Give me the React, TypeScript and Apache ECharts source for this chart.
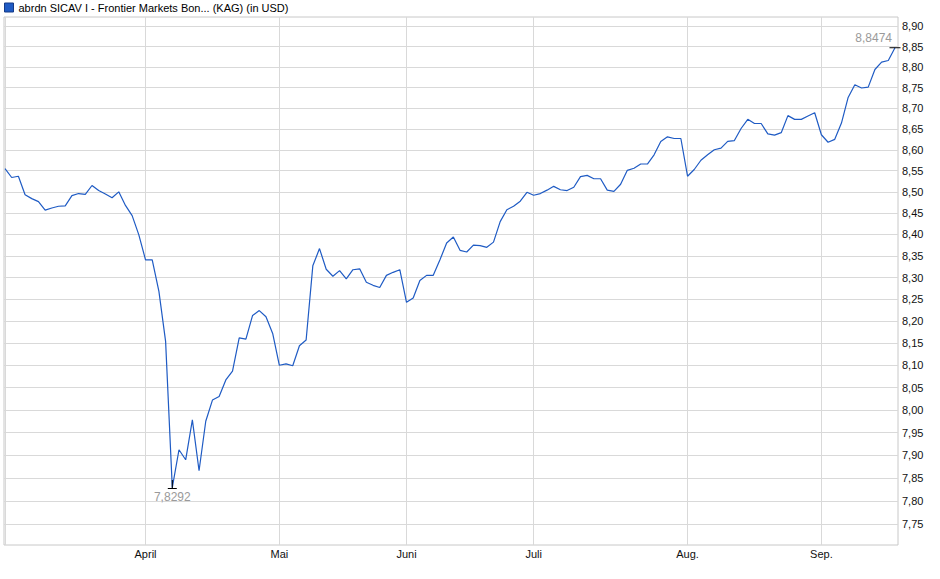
import React, { useEffect, useRef } from 'react';
import * as echarts from 'echarts';

const FONT = '"Liberation Sans", Arial, sans-serif';
const LINE_COLOR = '#1f5bc4';
const GRID_COLOR = '#d9d9d9';

const seriesName = 'abrdn SICAV I - Frontier Markets Bon... (KAG) (in USD)';

// month names (first trading day of each month gets a gridline)
const monthNames = ['März', 'April', 'Mai', 'Juni', 'Juli', 'Aug.', 'Sep.'];

// daily prices per month
const marValues = [8.555, 8.534, 8.537, 8.493, 8.484, 8.477, 8.457, 8.462, 8.466, 8.467, 8.491, 8.496, 8.494, 8.515, 8.503, 8.495, 8.486, 8.5, 8.468, 8.444, 8.399];
const aprValues = [8.341, 8.341, 8.268, 8.154, 7.8292, 7.912, 7.89, 7.978, 7.866, 7.975, 8.022, 8.03, 8.067, 8.087, 8.162, 8.159, 8.213, 8.224, 8.21, 8.172];
const maiValues = [8.1, 8.103, 8.099, 8.144, 8.157, 8.327, 8.367, 8.319, 8.303, 8.316, 8.297, 8.318, 8.32, 8.289, 8.282, 8.277, 8.305, 8.312, 8.318];
const junValues = [8.243, 8.253, 8.293, 8.305, 8.305, 8.341, 8.38, 8.394, 8.363, 8.359, 8.375, 8.374, 8.37, 8.382, 8.43, 8.458, 8.466, 8.478, 8.499];
const julValues = [8.492, 8.496, 8.504, 8.513, 8.505, 8.503, 8.511, 8.536, 8.539, 8.531, 8.531, 8.504, 8.501, 8.518, 8.551, 8.556, 8.566, 8.566, 8.588, 8.62, 8.631, 8.627, 8.627];
const augValues = [8.537, 8.553, 8.575, 8.588, 8.6, 8.604, 8.62, 8.622, 8.651, 8.673, 8.663, 8.663, 8.638, 8.635, 8.641, 8.682, 8.673, 8.673, 8.681, 8.689];
const sepValues = [8.636, 8.618, 8.625, 8.664, 8.726, 8.757, 8.749, 8.751, 8.794, 8.812, 8.816, 8.8474];

// y axis (log scale) tick labels
const yTicks = [7.75, 7.8, 7.85, 7.9, 7.95, 8.0, 8.05, 8.1, 8.15, 8.2, 8.25, 8.3, 8.35, 8.4, 8.45, 8.5, 8.55, 8.6, 8.65, 8.7, 8.75, 8.8, 8.85, 8.9];

const monthSeries = [marValues, aprValues, maiValues, junValues, julValues, augValues, sepValues];

const fmt = (v: number, d: number) => Number(v).toFixed(d).replace('.', ',');

function buildOption() {
  const values = monthSeries.flat();
  const seriesData = values.map((v, i) => [i, v]);

  let acc = 0;
  const monthStarts = monthSeries.map((arr) => {
    const s = acc;
    acc += arr.length;
    return s;
  });

  const hLines = yTicks.map((t) => ({
    yAxis: t,
    label: {
      show: true,
      position: 'end',
      distance: 4,
      formatter: () => fmt(t, 2),
      color: '#111',
      fontSize: 11,
      fontFamily: FONT,
    },
  }));

  const vLines = monthStarts.map((idx, m) => ({
    xAxis: idx,
    name: monthNames[m],
    label: {
      show: m > 0,
      position: 'start',
      distance: 3,
      formatter: '{b}',
      color: '#111',
      fontSize: 11,
      fontFamily: FONT,
    },
  }));

  return {
    animation: false,
    backgroundColor: '#fff',
    textStyle: { fontFamily: FONT },
    legend: {
      left: 0,
      top: 0,
      padding: [2, 4],
      icon: 'rect',
      itemWidth: 9,
      itemHeight: 9,
      data: [seriesName],
      itemStyle: { borderColor: '#153b87', borderWidth: 1 },
      textStyle: { color: '#000', fontSize: 11, fontFamily: FONT },
      selectedMode: false,
    },
    grid: {
      left: 4,
      right: 42,
      top: 17,
      bottom: 34,
      show: true,
      borderColor: '#c8c8c8',
      borderWidth: 1,
      backgroundColor: '#fff',
    },
    xAxis: { type: 'value', min: -0.15, max: 133.45, show: false },
    yAxis: { type: 'log', logBase: 10, min: 7.7053, max: 8.9233, show: false },
    series: [
      {
        name: seriesName,
        type: 'line',
        data: seriesData,
        showSymbol: false,
        symbol: 'none',
        z: 2,
        lineStyle: { color: LINE_COLOR, width: 1.2 },
        itemStyle: { color: LINE_COLOR },
        markLine: {
          silent: true,
          z: 1,
          symbol: ['none', 'none'],
          animation: false,
          lineStyle: { color: GRID_COLOR, width: 1, type: 'solid' },
          emphasis: { disabled: true },
          data: [...hLines, ...vLines],
        },
        markPoint: {
          silent: true,
          animation: false,
          data: [
            {
              type: 'min',
              valueIndex: 1,
              symbol: 'path://M4,0H5V8H9V9H0V8H4Z',
              symbolSize: [9, 9],
              symbolOffset: [0, -3],
              itemStyle: { color: '#000' },
              label: {
                show: true,
                position: 'bottom',
                distance: 2,
                formatter: (p: any) => fmt(p.value, 4),
                color: '#9a9a9a',
                fontSize: 12,
                fontFamily: FONT,
              },
            },
            {
              type: 'max',
              valueIndex: 1,
              symbol: 'rect',
              symbolSize: [11, 1],
              itemStyle: { color: '#000' },
              label: {
                show: true,
                position: [2.5, -9],
                align: 'right',
                verticalAlign: 'middle',
                formatter: (p: any) => fmt(p.value, 4),
                color: '#9a9a9a',
                fontSize: 12,
                fontFamily: FONT,
              },
            },
          ],
        },
      },
    ],
  };
}

export default function App() {
  const chartRef = useRef<HTMLDivElement>(null);

  useEffect(() => {
    document.body.style.margin = '0';
    if (!chartRef.current) return;
    const chart = echarts.init(chartRef.current, null, { renderer: 'svg' });
    chart.setOption(buildOption() as any);
    return () => {
      chart.dispose();
    };
  }, []);

  return <div ref={chartRef} style={{ width: 940, height: 579, background: '#fff' }} />;
}
